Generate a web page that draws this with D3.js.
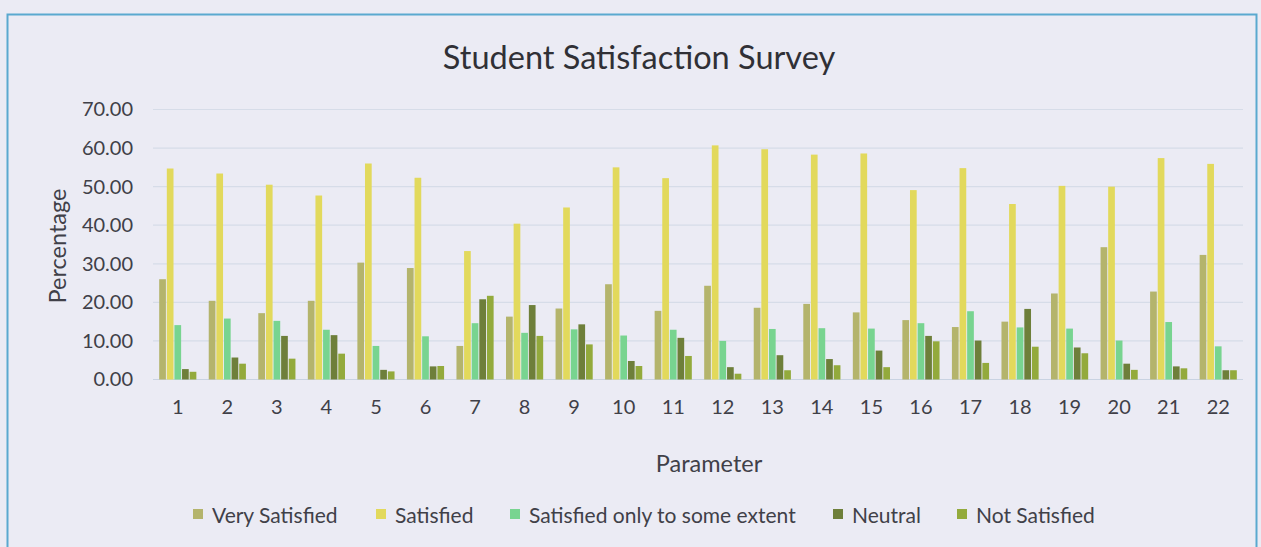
<!DOCTYPE html>
<html><head><meta charset="utf-8">
<script src="https://cdn.jsdelivr.net/npm/d3@7"></script>
<style>body{margin:0;background:#ebebf4;}svg{display:block;}</style>
</head><body>
<svg id="c" width="1261" height="547"></svg>
<script>
const categories = ["1","2","3","4","5","6","7","8","9","10","11","12","13","14","15","16","17","18","19","20","21","22"];
const seriesNames = ["Very Satisfied","Satisfied","Satisfied only to some extent","Neutral","Not Satisfied"];
const verySatisfied = [26.0,20.4,17.2,20.4,30.3,28.9,8.7,16.3,18.4,24.7,17.8,24.3,18.6,19.6,17.4,15.4,13.6,15.0,22.3,34.3,22.8,32.3];
const satisfied     = [54.7,53.4,50.5,47.7,56.0,52.3,33.3,40.4,44.6,55.0,52.2,60.7,59.7,58.3,58.6,49.1,54.8,45.5,50.2,50.0,57.4,55.9];
const someExtent    = [14.1,15.8,15.2,12.9,8.7,11.2,14.6,12.1,13.0,11.4,12.9,10.0,13.1,13.3,13.2,14.6,17.7,13.5,13.2,10.1,14.9,8.6];
const neutral       = [2.7,5.7,11.3,11.5,2.5,3.4,20.8,19.3,14.3,4.8,10.8,3.2,6.3,5.3,7.5,11.3,10.1,18.3,8.3,4.1,3.4,2.4];
const notSatisfied  = [2.0,4.1,5.4,6.7,2.1,3.5,21.7,11.3,9.1,3.5,6.1,1.5,2.4,3.7,3.2,9.9,4.3,8.5,6.8,2.5,2.9,2.4];
const yTicks = [0,10,20,30,40,50,60,70];
const colors = ["#b4b46c","#e2d95c","#78d490","#6e7f3a","#93aa3c"];

const series = [verySatisfied, satisfied, someExtent, neutral, notSatisfied];
const svg = d3.select("#c");
const font = "Lato, 'Open Sans', sans-serif";

// border
svg.append("rect").attr("x",7.5).attr("y",14.5).attr("width",1249).attr("height",560)
  .attr("fill","none").attr("stroke","#5aa9cf").attr("stroke-width",2);

const m = {l:153, r:1243, t:109.5, b:379.5};
const x = d3.scaleBand().domain(categories).range([m.l, m.r]).paddingInner(0.25).paddingOuter(0.125);
const x1 = d3.scaleBand().domain(d3.range(5)).range([0, x.bandwidth()]).paddingInner(0.12);
const y = d3.scaleLinear().domain([0,70]).range([m.b, m.t]);

// gridlines
svg.append("g").selectAll("line").data(yTicks).join("line")
  .attr("x1", m.l).attr("x2", m.r)
  .attr("y1", d=>y(d)).attr("y2", d=>y(d))
  .attr("stroke", d=> d===0 ? "#c9d3e2" : "#d6dce8").attr("stroke-width",1.2);

// y axis labels
const yAxis = d3.axisLeft(y).tickValues(yTicks).tickFormat(d3.format(".2f")).tickSize(0).tickPadding(0);
const gy = svg.append("g").attr("transform",`translate(133,0)`).call(yAxis);
gy.select(".domain").remove();
gy.selectAll("text").attr("font-family",font).attr("font-size",20).attr("fill","#404048");

// x axis labels
const xAxis = d3.axisBottom(x).tickSize(0).tickPadding(0);
const gx = svg.append("g").attr("transform",`translate(0,${m.b+20})`).call(xAxis);
gx.select(".domain").remove();
gx.selectAll("text").attr("font-family",font).attr("font-size",20).attr("fill","#404048");

// bars
const g = svg.append("g");
categories.forEach((c,i)=>{
  series.forEach((s,k)=>{
    g.append("rect")
      .attr("x", x(c)+x1(k)).attr("width", x1.bandwidth())
      .attr("y", y(s[i])).attr("height", y(0)-y(s[i]))
      .attr("fill", colors[k]);
  });
});

// title
svg.append("text").attr("x",639).attr("y",69).attr("text-anchor","middle")
  .attr("font-family",font).attr("font-size",32.5).attr("fill","#303036").text("Student Satisfaction Survey");
// axis titles
svg.append("text").attr("transform","translate(66,246) rotate(-90)").attr("text-anchor","middle")
  .attr("font-family",font).attr("font-size",23.5).attr("fill","#404048").text("Percentage");
svg.append("text").attr("x",709).attr("y",472).attr("text-anchor","middle")
  .attr("font-family",font).attr("font-size",23.5).attr("fill","#404048").text("Parameter");

// legend
const legX = [193, 376, 510, 833, 957];
const lg = svg.append("g");
seriesNames.forEach((n,k)=>{
  lg.append("rect").attr("x",legX[k]).attr("y",509).attr("width",10).attr("height",10).attr("fill",colors[k]);
  lg.append("text").attr("x",legX[k]+19).attr("y",523).attr("font-family",font).attr("font-size",21)
    .attr("fill","#404048").text(n);
});
</script>
</body></html>
